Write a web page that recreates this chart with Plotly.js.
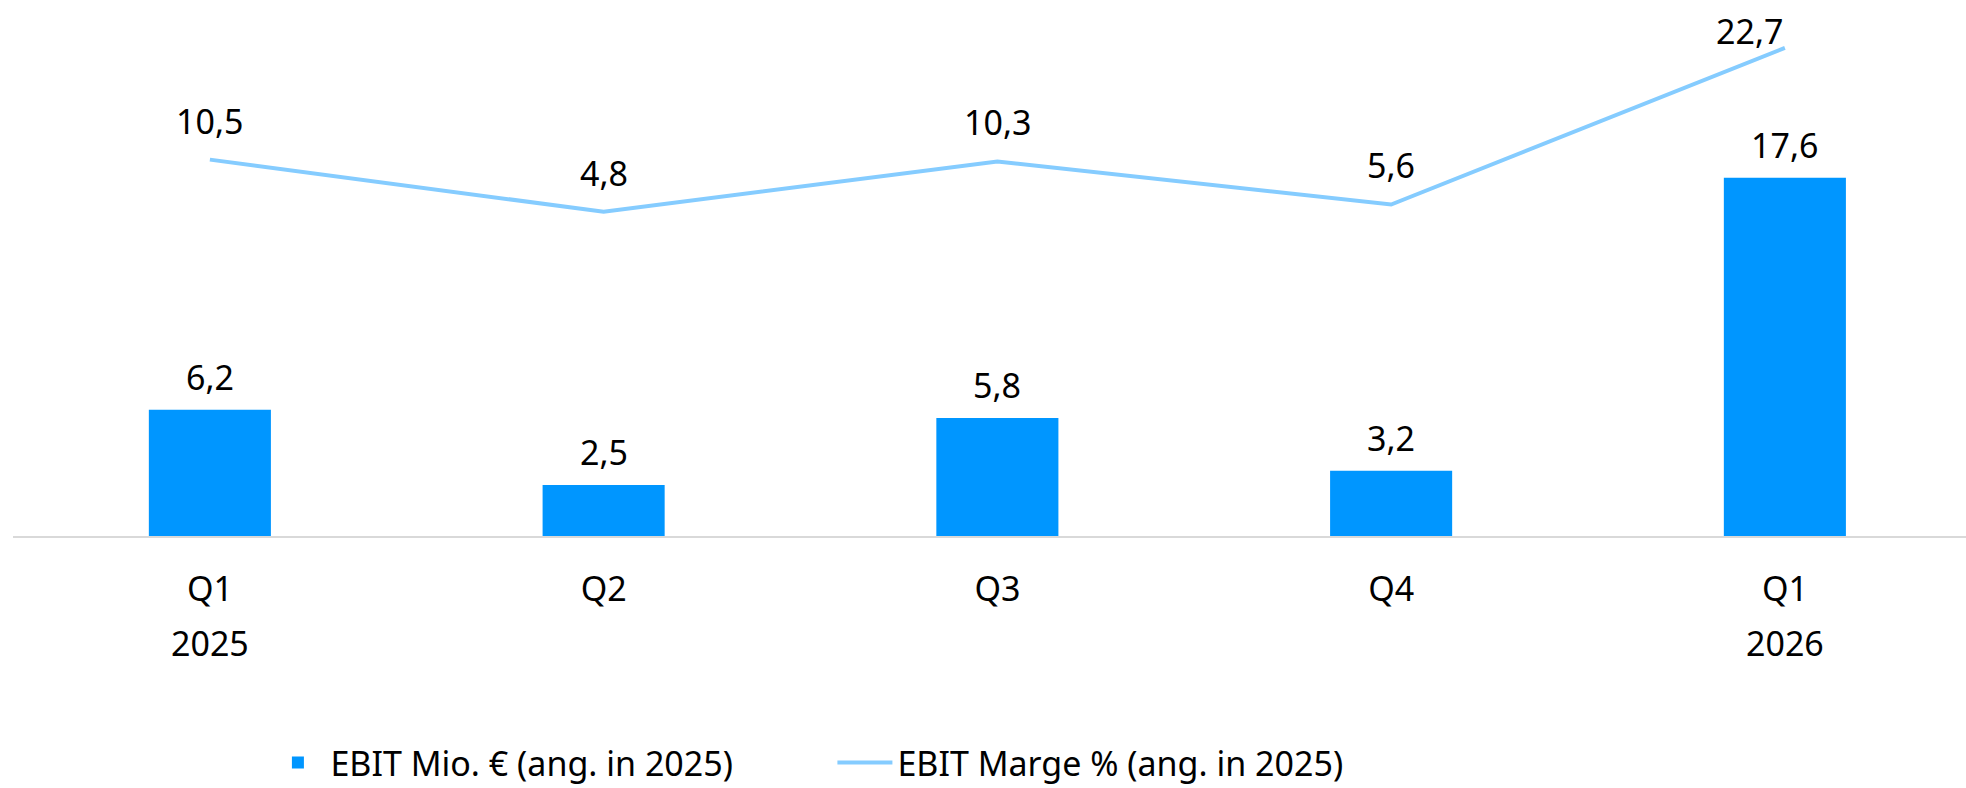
<!DOCTYPE html>
<html>
<head>
<meta charset="utf-8">
<script src="https://cdn.plot.ly/plotly-3.0.1.min.js"></script>
<style>
  html, body { margin: 0; padding: 0; background: #fff; }
  #plot { width: 1966px; height: 788px; }
</style>
</head>
<body>
<div id="plot"></div>
<script>
const categories = ["Q1 2025", "Q2 2025", "Q3 2025", "Q4 2025", "Q1 2026"];
const quarterLabels = ["Q1", "Q2", "Q3", "Q4", "Q1"];
const yearLabels = ["2025", "", "", "", "2026"];
const ebit = [6.2, 2.5, 5.8, 3.2, 17.6];
const marge = [10.5, 4.8, 10.3, 5.6, 22.7];

const fmt = (v) => v.toFixed(1).replace(".", ",");

const font = { family: "Noto Sans, Open Sans, sans-serif", size: 34, color: "#000" };

let data = [
    {
        type: "bar",
        x: categories,
        y: ebit,
        width: 0.31,
        marker: { color: "#0096ff" },
        name: "EBIT Mio. € (ang. in 2025)",
        hoverinfo: "skip"
    },
    {
        type: "scatter",
        mode: "lines",
        x: categories,
        y: marge,
        yaxis: "y2",
        line: { color: "#85ccff", width: 4 },
        name: "EBIT Marge % (ang. in 2025)",
        hoverinfo: "skip"
    }
];

// Datenbeschriftungen
let annotations = [];
ebit.forEach((v, i) => {
    annotations.push({
        x: categories[i], y: v, xref: "x", yref: "y",
        text: fmt(v), showarrow: false, yanchor: "middle", yshift: 33,
        font: font
    });
});
marge.forEach((v, i) => {
    const last = i === marge.length - 1;
    annotations.push({
        x: categories[i], y: v, xref: "x", yref: "y2",
        text: fmt(v), showarrow: false, yanchor: "middle",
        xanchor: last ? "right" : "center",
        yshift: last ? 17 : 39,
        font: font
    });
});
// Jahreszahlen unter den Quartalen
yearLabels.forEach((t, i) => {
    if (!t) return;
    annotations.push({
        x: categories[i], y: 0, xref: "x", yref: "paper",
        text: t, showarrow: false, yanchor: "middle", yshift: -107,
        font: font
    });
});

let layout = {
    width: 1966,
    height: 788,
    margin: { l: 13, r: 0, t: 25, b: 252 },
    paper_bgcolor: "#fff",
    plot_bgcolor: "#fff",
    font: font,
    showlegend: true,
    legend: {
        orientation: "h",
        xref: "container", yref: "container",
        x: 0.135, xanchor: "left",
        y: 0.032, yanchor: "middle",
        font: font,
        itemwidth: 55,
        entrywidth: 497,
        traceorder: "normal"
    },
    xaxis: {
        type: "category",
        range: [-0.5, 4.46],
        tickvals: categories,
        ticktext: quarterLabels,
        showline: true,
        linecolor: "#d9d9d9",
        linewidth: 2,
        showgrid: false,
        ticks: "",
        ticklabelstandoff: 22,
        tickfont: font
    },
    yaxis: {
        range: [0, 25.1],
        visible: false,
        showgrid: false,
        zeroline: false
    },
    yaxis2: {
        range: [-30.6, 25.2],
        overlaying: "y",
        visible: false,
        showgrid: false,
        zeroline: false
    },
    annotations: annotations
};

let config = { responsive: false, displayModeBar: false, staticPlot: true };

Plotly.newPlot("plot", data, layout, config);
</script>
</body>
</html>
